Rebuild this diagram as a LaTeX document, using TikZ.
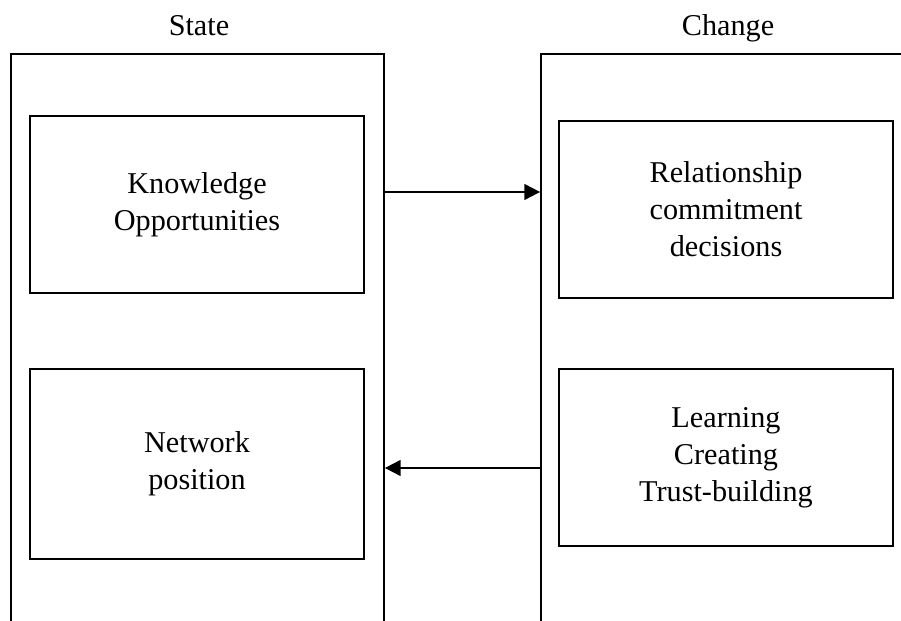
\documentclass[tikz,border=0pt]{standalone}
\usepackage{fontspec}
\setmainfont{Liberation Serif}
\usetikzlibrary{arrows.meta,positioning}

\tikzset{
  frame/.style={draw, line width=1pt, inner sep=0pt},
  itembox/.style={draw, line width=1pt, inner sep=0pt, align=center,
    minimum width=6.68cm, minimum height=3.54cm},
  title/.style={anchor=base, inner sep=0pt},
  flow/.style={line width=1.1pt, -{Triangle[length=9pt,width=9pt]}}
}

\begin{document}
\begin{tikzpicture}[font=\fontsize{17.2}{21}\selectfont]
      \clip (0,0) rectangle (18.02,12.42);

      % State
      \node[frame, minimum width=7.46cm, minimum height=11.84cm] (state) at (3.95,5.42) {};
      \node[title] (statelbl) at (3.98,11.7) {State};
      \node[itembox] (know) at (3.94,8.33) {Knowledge\\Opportunities};
      \node[itembox, minimum height=3.8cm] (netpos) at (3.94,3.14) {Network\\position};

      % Change
      \node[frame, minimum width=7.7cm, minimum height=11.84cm] (change) at (14.67,5.42) {};
      \node[title] (changelbl) at (14.56,11.7) {Change};
      \node[itembox] (commit) at (14.52,8.23) {Relationship\\commitment\\decisions};
      \node[itembox] (learn) at (14.52,3.27) {Learning\\Creating\\Trust-building};

      % Arrows
      \draw[flow] (state.east |- 0,8.58) -- (change.west |- 0,8.58);
      \draw[flow] (change.west |- 0,3.06) -- (state.east |- 0,3.06);
\end{tikzpicture}
\end{document}
